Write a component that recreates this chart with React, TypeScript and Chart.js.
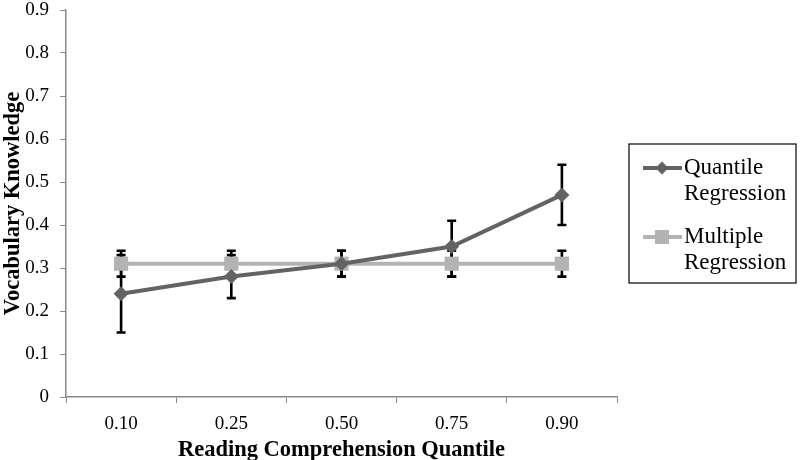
import React, { useEffect, useRef } from "react";
import { Chart, registerables } from "chart.js";

Chart.register(...registerables);

const categories = ["0.10", "0.25", "0.50", "0.75", "0.90"];
const quantileValues = [0.24, 0.28, 0.31, 0.35, 0.47];
const quantileLow = [0.15, 0.23, 0.28, 0.28, 0.40];
const quantileHigh = [0.33, 0.33, 0.34, 0.41, 0.54];
const multipleValues = [0.31, 0.31, 0.31, 0.31, 0.31];
const multipleLow = [0.28, 0.28, 0.28, 0.28, 0.28];
const multipleHigh = [0.34, 0.34, 0.34, 0.34, 0.34];
const legendLines = [["Quantile", "Regression"], ["Multiple", "Regression"]];

const SERIF = "'Liberation Serif', 'Times New Roman', serif";

const errorBarPlugin = {
  id: "errorBars",
  beforeDatasetsDraw(chart: any) {
    const ctx = chart.ctx;
    const x = chart.scales.x;
    const y = chart.scales.y;
    const sets = [
      [quantileLow, quantileHigh],
      [multipleLow, multipleHigh],
    ];
    ctx.save();
    ctx.strokeStyle = "#000000";
    ctx.lineWidth = 2.6;
    sets.forEach(([lo, hi]) => {
      categories.forEach((_, i) => {
        const px = x.getPixelForValue(i);
        const y1 = y.getPixelForValue(lo[i]);
        const y2 = y.getPixelForValue(hi[i]);
        ctx.beginPath();
        ctx.moveTo(px, y1);
        ctx.lineTo(px, y2);
        ctx.moveTo(px - 4.5, y1);
        ctx.lineTo(px + 4.5, y1);
        ctx.moveTo(px - 4.5, y2);
        ctx.lineTo(px + 4.5, y2);
        ctx.stroke();
      });
    });
    ctx.restore();
  },
};

const legendPlugin = {
  id: "customLegend",
  afterDraw(chart: any) {
    const ctx = chart.ctx;
    ctx.save();
    ctx.strokeStyle = "#000000";
    ctx.lineWidth = 1.2;
    ctx.strokeRect(629, 144, 167, 139);
    const rows = [168, 237];
    chart.data.datasets.forEach((ds: any, i: number) => {
      const yy = rows[i];
      ctx.strokeStyle = ds.borderColor;
      ctx.lineWidth = 4;
      ctx.beginPath();
      ctx.moveTo(643, yy);
      ctx.lineTo(682, yy);
      ctx.stroke();
      ctx.fillStyle = ds.pointBackgroundColor;
      ctx.beginPath();
      if (ds.pointStyle === "rectRot") {
        const r = 6.5;
        ctx.moveTo(662, yy - r);
        ctx.lineTo(662 + r, yy);
        ctx.lineTo(662, yy + r);
        ctx.lineTo(662 - r, yy);
        ctx.closePath();
      } else {
        ctx.rect(655, yy - 7, 14, 14);
      }
      ctx.fill();
      ctx.fillStyle = "#000000";
      ctx.font = `23px ${SERIF}`;
      ctx.textBaseline = "middle";
      ctx.textAlign = "left";
      legendLines[i].forEach((t, j) => {
        ctx.fillText(t, 684, yy + j * 26);
      });
    });
    ctx.restore();
  },
};

export default function App() {
  const ref = useRef<HTMLCanvasElement>(null);
  useEffect(() => {
    if (!ref.current) return;
    const chart = new Chart(ref.current, {
      type: "line",
      data: {
        labels: categories,
        datasets: [
          {
            label: "Quantile Regression",
            data: quantileValues,
            borderColor: "#636363",
            backgroundColor: "#636363",
            pointBackgroundColor: "#636363",
            pointBorderColor: "#636363",
            pointStyle: "rectRot",
            pointRadius: 7.5,
            pointBorderWidth: 0,
            borderWidth: 4,
            tension: 0,
          },
          {
            label: "Multiple Regression",
            data: multipleValues,
            borderColor: "#b3b3b3",
            backgroundColor: "#b3b3b3",
            pointBackgroundColor: "#b3b3b3",
            pointBorderColor: "#b3b3b3",
            pointStyle: "rect",
            pointRadius: 10,
            pointBorderWidth: 0,
            borderWidth: 4,
            tension: 0,
          },
        ],
      },
      options: {
        responsive: false,
        animation: false,
        layout: { padding: { left: 0, right: 183, top: 8, bottom: 0 } },
        plugins: {
          legend: { display: false },
          tooltip: { enabled: false },
        },
        scales: {
          x: {
            offset: true,
            grid: {
              offset: true,
              drawOnChartArea: false,
              drawTicks: true,
              tickLength: 6,
              color: "#898989",
            },
            border: { color: "#898989", width: 1.5 },
            ticks: {
              color: "#000000",
              font: { family: SERIF, size: 19 },
              padding: 10,
            },
            title: {
              display: true,
              text: "Reading Comprehension Quantile",
              color: "#000000",
              font: { family: SERIF, size: 22.5, weight: "bold" },
              padding: { top: 0, bottom: -4 },
            },
            afterFit(scale: any) {
              scale.height = 63;
              scale.paddingLeft = 0;
              scale.paddingRight = 0;
            },
          },
          y: {
            min: 0,
            max: 0.9,
            grid: {
              drawOnChartArea: false,
              drawTicks: true,
              tickLength: 6,
              color: "#898989",
            },
            border: { color: "#898989", width: 1.5 },
            ticks: {
              stepSize: 0.1,
              color: "#000000",
              font: { family: SERIF, size: 19, lineHeight: 1 },
              padding: 11,
              callback: (v: any) => (Number(v) === 0 ? "0" : Number(v).toFixed(1)),
            },
            title: {
              display: true,
              text: "Vocabulary Knowledge",
              color: "#000000",
              font: { family: SERIF, size: 22.5, weight: "bold" },
              padding: { top: 0, bottom: 0 },
            },
            afterFit(scale: any) {
              scale.width = 66;
              scale.paddingTop = 0;
              scale.paddingBottom = 0;
            },
          },
        },
      },
      plugins: [errorBarPlugin, legendPlugin],
    });
    return () => chart.destroy();
  }, []);
  return (
    <div style={{ position: "fixed", left: 0, top: 0, width: 800, height: 460, background: "#ffffff" }}>
      <canvas ref={ref} width={800} height={460} style={{ width: 800, height: 460 }} />
    </div>
  );
}
